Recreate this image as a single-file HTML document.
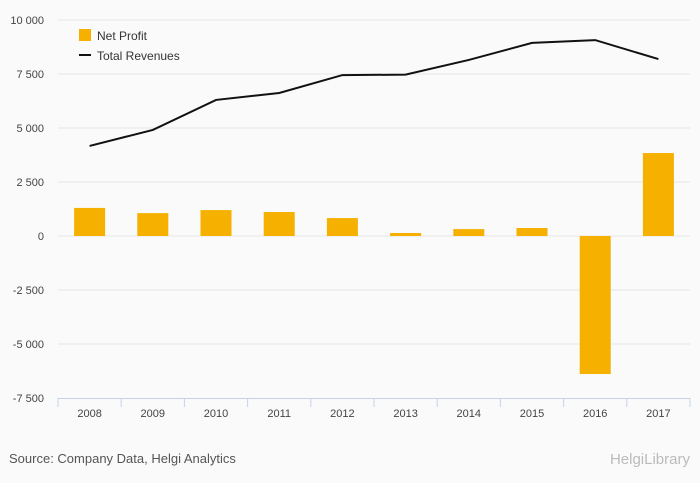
<!DOCTYPE html>
<html><head><meta charset="utf-8"><style>
body{margin:0;background:#fafafa;font-family:"Liberation Sans",sans-serif}
svg{display:block}
</style></head><body>
<svg id="c" width="700" height="483">
<rect width="700" height="483" fill="#fafafa"/>
<g id="grid"></g><g id="bars"></g><g id="line"></g><g id="axis"></g>
<g>
<rect x="79" y="29" width="12" height="12" fill="#f5b000"/>
<text x="97" y="40" font-size="12" fill="#333">Net Profit</text>
<line x1="79" y1="55" x2="91" y2="55" stroke="#111" stroke-width="2"/>
<text x="97" y="60" font-size="12" fill="#333">Total Revenues</text>
</g>
<text x="9" y="463" font-size="13" fill="#555">Source: Company Data, Helgi Analytics</text>
<text x="690" y="464" font-size="15" fill="#bbb" text-anchor="end">HelgiLibrary</text>
</svg>
<script>
const categories=["2008","2009","2010","2011","2012","2013","2014","2015","2016","2017"];
const netProfit=[1300,1060,1200,1110,830,140,320,370,-6390,3840];
const revenues=[4170,4910,6300,6620,7450,7470,8150,8940,9070,8190];
const yTicks=[10000,7500,5000,2500,0,-2500,-5000,-7500];
const yTickLabels=["10 000","7 500","5 000","2 500","0","-2 500","-5 000","-7 500"];
const NS="http://www.w3.org/2000/svg";
const x0=58,x1=690,yTop=20,yBot=398,vMax=10000,vMin=-7500;
const y=v=>yTop+(vMax-v)/(vMax-vMin)*(yBot-yTop);
const step=(x1-x0)/categories.length;
const xc=i=>x0+step*(i+0.5);
function mk(t,a,p){const e=document.createElementNS(NS,t);for(const k in a)e.setAttribute(k,a[k]);p.appendChild(e);return e;}
const grid=document.getElementById('grid'),bars=document.getElementById('bars'),line=document.getElementById('line'),axis=document.getElementById('axis');
yTicks.forEach((v,i)=>{
 if(i<yTicks.length-1){const g=mk('line',{x1:x0,x2:x1,y1:y(v),y2:y(v),stroke:'#e6e6e6','stroke-width':1},grid);
 
 }
 const t=mk('text',{x:44,y:y(v)+4,'font-size':11,fill:'#444','text-anchor':'end'},axis);t.textContent=yTickLabels[i];
 
 
});
const al=mk('line',{x1:x0,x2:x1,y1:yBot+0.5,y2:yBot+0.5,stroke:'#c6d3e6'},axis);


for(let i=0;i<=categories.length;i++){const tk=mk('line',{x1:x0+step*i,x2:x0+step*i,y1:yBot,y2:yBot+9,stroke:'#c6d3e6'},axis);
 
 }
categories.forEach((c,i)=>{
 const t=mk('text',{x:xc(i),y:yBot+19,'font-size':11,fill:'#444','text-anchor':'middle'},axis);t.textContent=c;
 
 
 const v=netProfit[i],top=Math.min(y(v),y(0)),h=Math.abs(y(v)-y(0));
 const b=mk('rect',{x:xc(i)-15.5,y:top,width:31,height:h,fill:'#f5b000'},bars);
 
 
});
const p=mk('polyline',{points:revenues.map((v,i)=>xc(i)+','+y(v)).join(' '),fill:'none',stroke:'#111','stroke-width':2},line);


</script>
</body></html>
